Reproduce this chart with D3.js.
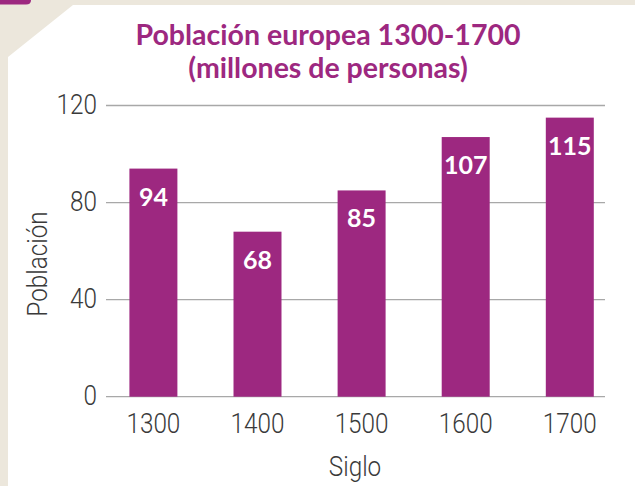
<!DOCTYPE html>
<html><head><meta charset="utf-8">
<script src="https://cdn.jsdelivr.net/npm/d3@7/dist/d3.min.js"></script>
<style>html,body{margin:0;padding:0;background:#ece7dc;}svg{display:block;}</style>
</head><body>
<script>
const categories = ["1300", "1400", "1500", "1600", "1700"];
const values = [94, 68, 85, 107, 115];
const yTicks = [0, 40, 80, 120];
const title = ["Población europea 1300-1700", "(millones de personas)"];
const xLabel = "Siglo";
const yLabel = "Población";

const W = 635, H = 486;
const purple = "#9d2880";
const axisFont = "Roboto, 'Open Sans', sans-serif";
const sx = 0.9;
const svg = d3.select("body").append("svg").attr("width", W).attr("height", H);

svg.append("rect").attr("width", W).attr("height", H).attr("fill", "#ece7dc");
svg.append("path").attr("d", `M8,57 L73,5 L${W},5 L${W},${H} L8,${H} Z`).attr("fill", "#ffffff");
svg.append("path").attr("d", "M0,0 L31,0 L31,0 Q31,4.5 26,4.5 L0,4.5 Z").attr("fill", purple);

const x = d3.scaleBand().domain(categories).range([101.35, 621.85]).paddingInner(0.539).paddingOuter(0.2695);
const y = d3.scaleLinear().domain([0, 120]).range([396.7, 105.5]);

const gridX0 = 106, gridX1 = 605;
svg.append("g").selectAll("line").data(yTicks).join("line")
  .attr("x1", gridX0).attr("x2", gridX1)
  .attr("y1", d => y(d)).attr("y2", d => y(d))
  .attr("stroke", "#a8a8a8").attr("stroke-width", 1.3);

svg.append("g").selectAll("text").data(yTicks).join("text")
  .attr("transform", d => `translate(97,${y(d) + 8}) scale(${sx},1)`)
  .attr("text-anchor", "end")
  .attr("font-family", axisFont).attr("font-weight", 300)
  .attr("font-size", 27).attr("fill", "#3a3a3a").text(d => d);

const bars = svg.append("g").selectAll("g").data(categories).join("g");
bars.append("rect")
  .attr("x", (d) => x(d)).attr("width", x.bandwidth())
  .attr("y", (d, i) => y(values[i])).attr("height", (d, i) => y(0) - y(values[i]))
  .attr("fill", purple);
bars.append("text")
  .attr("x", d => x(d) + x.bandwidth() / 2)
  .attr("y", (d, i) => y(values[i]) + 37)
  .attr("text-anchor", "middle")
  .attr("font-family", "Lato, sans-serif").attr("font-weight", 700)
  .attr("font-size", 25).attr("fill", "#ffffff")
  .text((d, i) => values[i]);

svg.append("g").selectAll("text").data(categories).join("text")
  .attr("transform", d => `translate(${x(d) + x.bandwidth() / 2},433) scale(${sx},1)`)
  .attr("text-anchor", "middle")
  .attr("font-family", axisFont).attr("font-weight", 300)
  .attr("font-size", 27).attr("fill", "#3a3a3a").text(d => d);

svg.append("text").attr("transform", `translate(355,476) scale(${sx},1)`)
  .attr("text-anchor", "middle")
  .attr("font-family", axisFont).attr("font-weight", 300)
  .attr("font-size", 27).attr("fill", "#3a3a3a").text(xLabel);

svg.append("text").attr("transform", `translate(47,264) rotate(-90) scale(${sx},1)`)
  .attr("text-anchor", "middle")
  .attr("font-family", axisFont).attr("font-weight", 300)
  .attr("font-size", 27).attr("fill", "#3a3a3a").text(yLabel);

svg.append("g").selectAll("text").data(title).join("text")
  .attr("x", 328).attr("y", (d, i) => 45 + i * 33)
  .attr("text-anchor", "middle")
  .attr("font-family", "Lato, sans-serif").attr("font-weight", 700)
  .attr("font-size", 28.5).attr("fill", purple).text(d => d);
</script>
</body></html>
